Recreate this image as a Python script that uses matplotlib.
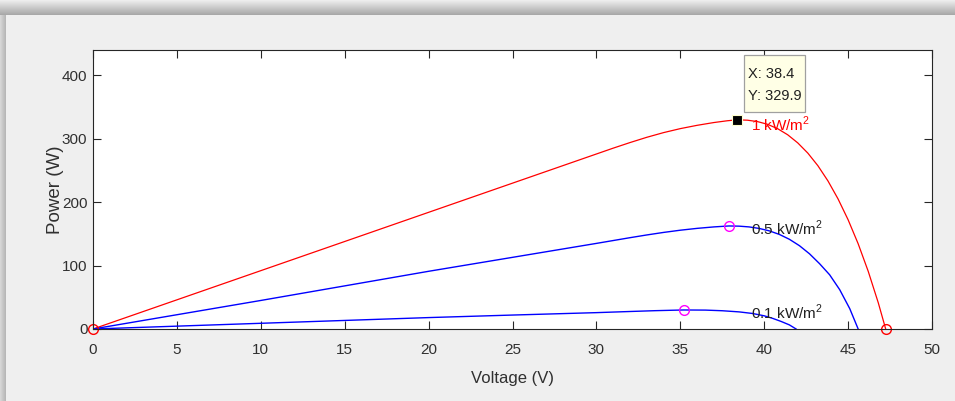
import numpy as np
import matplotlib
matplotlib.use('Agg')
import matplotlib.pyplot as plt
from matplotlib.patches import Rectangle

# --- values (P-V curves of a PV module) ---
v_1000 = [0, 5, 10, 15, 20, 25, 28, 30, 31, 32, 33, 34, 35, 36, 37, 37.8, 38.4,
          39.0, 39.6, 40.2, 40.8, 41.4, 42.0, 42.6, 43.2, 43.8, 44.4, 45.0,
          45.6, 46.2, 46.8, 47.24]
p_1000 = [0, 46, 92, 138, 184, 230, 257.6, 276, 285.2, 294, 302.3, 309.7, 316, 321.2, 325.6, 328.4, 329.9,
          329.3, 327.1, 322.8, 315.9, 306.3, 293.5, 277.4, 257.5, 233.5, 205.2, 172.3,
          134.4, 90.9, 41.2, 0]

v_500 = [0, 5, 10, 15, 20, 25, 30, 32, 33, 34, 35, 36, 37, 37.9, 38.5, 39.1, 39.7,
         40.3, 40.9, 41.5, 42.1, 42.7, 43.3, 43.9, 44.5, 45.1, 45.6]
p_500 = [0, 22.5, 45, 68, 91, 113, 135, 144, 148.3, 152.3, 155.8, 158.7, 161, 162.5, 162.2, 161, 158.6,
         154.8, 149.2, 141.5, 131.4, 118.6, 103, 85.5, 62, 32, 0]

v_100 = [0, 5, 10, 15, 20, 25, 30, 32, 33.5, 35.2, 36.5, 37.5, 38.5, 39.3, 40.0, 40.5,
         41.0, 41.5, 41.9]
p_100 = [0, 4.5, 9, 13.5, 18, 22, 25.8, 27.6, 28.9, 30, 29.8, 28.8, 27, 24.5, 20.8, 16.8,
         12, 6.5, 0]

mpp_v = [37.9, 35.2]      # magenta markers (0.5 and 0.1 kW/m2)
mpp_p = [162.5, 30]
end_v = [0, 47.24]        # red open circles on the 1 kW/m2 curve
end_p = [0, 0]
tip_v, tip_p = 38.4, 329.9

curve_labels = ['1 kW/m$^2$', '0.5 kW/m$^2$', '0.1 kW/m$^2$']
label_pos = [(39.2, 323), (39.2, 159), (39.2, 27)]

xticks = list(range(0, 55, 5))
yticks = [0, 100, 200, 300, 400]

plt.rcParams['font.family'] = ['Liberation Sans', 'DejaVu Sans']
plt.rcParams['mathtext.fontset'] = 'custom'
plt.rcParams['mathtext.rm'] = 'Liberation Sans'

fig = plt.figure(figsize=(9.55, 4.01), dpi=100)

# window-like background with a soft shadow along the top and left edge
bg = fig.add_axes([0, 0, 1, 1])
H, W = 401, 955
img = np.full((H, W), 0.94)
rows = np.arange(15)
img[:15, :] = (0.93 - 0.27 * rows / 14)[:, None]
cols = np.arange(6)
img[15:, :6] = (0.84 - 0.12 * cols / 5)[None, :]
bg.imshow(np.dstack([img] * 3), aspect='auto', extent=[0, 1, 0, 1], zorder=0)
bg.set_axis_off()

ax = fig.add_axes([93 / 955, 1 - 329 / 401, (932 - 93) / 955, (329 - 50) / 401])
ax.set_facecolor('white')

ax.plot(v_1000, p_1000, color='#ff0000', lw=0.9)
ax.plot(v_500, p_500, color='#0000ff', lw=1.0)
ax.plot(v_100, p_100, color='#0000ff', lw=1.0)
ax.plot(end_v, end_p, 'o', ls='none', mfc='none', mec='#ff0000', ms=7, mew=1, clip_on=False)
ax.plot(mpp_v, mpp_p, 'o', ls='none', mfc='none', mec='#ff00ff', ms=7, mew=1)
ax.plot([tip_v], [tip_p], 's', color='black', mec='#ffffcc', ms=7.5, mew=0.8, zorder=5)

for txt, (x, y), c in zip(curve_labels, label_pos, ['#ff0000', '#202020', '#202020']):
    ax.text(x, y, txt, color=c, fontsize=11, ha='left', va='center')

ax.set_xlim(0, 50)
ax.set_ylim(0, 440)
ax.set_xticks(xticks)
ax.set_yticks(yticks)
ax.tick_params(direction='in', length=6, width=0.8, colors='#262626',
               top=True, right=True, labelsize=11, labelcolor='#303030')
ax.tick_params(axis='x', pad=10)
ax.tick_params(axis='y', pad=4)
for s in ax.spines.values():
    s.set_color('#262626')
    s.set_linewidth(0.8)

ax.set_xlabel('Voltage (V)', fontsize=12, color='#303030', labelpad=10.5)
ax.set_ylabel('Power (W)', fontsize=13.5, color='#303030', labelpad=-1.5)

# MATLAB-style data tip box, placed in pixels next to the marker
mx, my = ax.transData.transform((tip_v, tip_p))
ax.add_patch(Rectangle((mx + 7, my + 7.5), 61, 57.5, transform=None, clip_on=False,
                       fc='#ffffe6', ec='#a0a0a0', lw=0.9, zorder=6))
ax.text(mx + 11, my + 46, f'X: {tip_v}', transform=None, fontsize=10.5,
        color='#202020', ha='left', va='center', zorder=7)
ax.text(mx + 11, my + 24, f'Y: {tip_p}', transform=None, fontsize=10.5,
        color='#202020', ha='left', va='center', zorder=7)

fig.savefig('out.png', dpi=100)
